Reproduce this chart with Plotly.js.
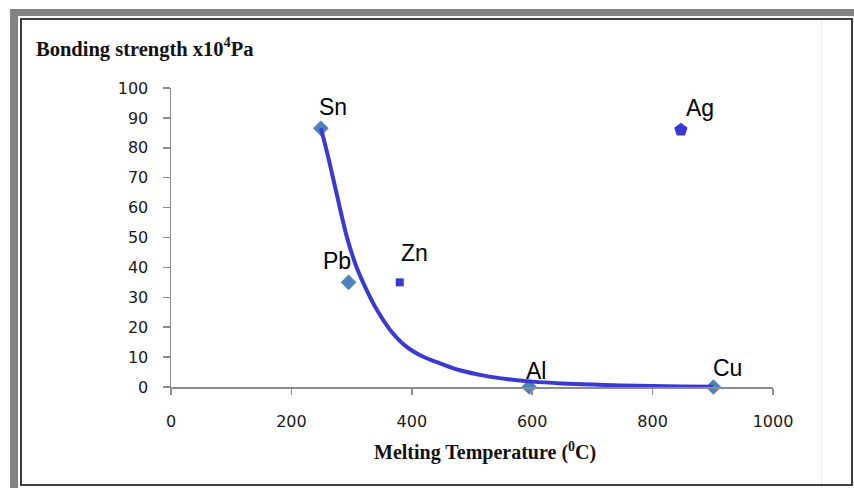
<!DOCTYPE html>
<html>
<head>
<meta charset="utf-8">
<script src="https://cdn.plot.ly/plotly-3.0.1.min.js"></script>
<style>
  html, body { margin: 0; padding: 0; background: #ffffff; }
  #wrap { position: relative; width: 854px; height: 488px; overflow: hidden; background: #ffffff; }
  #chart { position: absolute; left: 0; top: 0; width: 854px; height: 488px; }
  .fr { position: absolute; }
</style>
</head>
<body>
<div id="wrap">
  <div class="fr" style="left:10px;top:9px;width:844px;height:7px;background:#828282;"></div>
  <div class="fr" style="left:10px;top:9px;width:8px;height:479px;background:#828282;"></div>
  <div class="fr" style="left:821px;top:20px;width:1px;height:468px;background:#ededed;"></div>
  <div class="fr" style="left:20px;top:18px;width:829px;height:464px;border:2px solid #3e3e3e;"></div>
  <div id="chart"></div>
</div>
<script>
// Metals: melting temperature (°C) and bonding strength (x10^4 Pa)
const metals   = ['Sn', 'Pb', 'Al', 'Cu'];
const meltT    = [249, 295, 595, 901];
const strength = [86.5, 35, 0, 0];

const znName = ['Zn'];
const znT    = [380];
const znS    = [35];

const agName = ['Ag'];
const agT    = [847];
const agS    = [86];

// Trend line
const trendT = [249, 261, 275, 292, 308, 325, 342, 364, 391, 419, 447, 480, 520, 560, 600, 650, 700, 750, 800, 850, 900];
const trendS = [86.5, 77, 64.8, 50.3, 40.2, 32.4, 25.8, 19.1, 13.5, 10.1, 7.9, 5.6, 3.8, 2.6, 1.8, 1.2, 0.8, 0.5, 0.35, 0.2, 0.1];

const xTicks = [0, 200, 400, 600, 800, 1000];
const yTicks = [0, 10, 20, 30, 40, 50, 60, 70, 80, 90, 100];

// label offsets (px) per metal label
const labelNames = ['Sn', 'Pb', 'Zn', 'Ag', 'Al', 'Cu'];
const labelX = [meltT[0], meltT[1], znT[0], agT[0], meltT[2], meltT[3]];
const labelY = [strength[0], strength[1], znS[0], agS[0], strength[2], strength[3]];
const labelDX = [12, -12, 15, 19, 7, 14];
const labelDY = [21, 21, 29, 22, 16, 19];

const traces = [
  {
    x: meltT, y: strength, type: 'scatter', mode: 'markers', cliponaxis: false,
    marker: { symbol: 'diamond', size: 12, color: '#4f81bd' }, hoverinfo: 'skip'
  },
  {
    x: trendT, y: trendS, type: 'scatter', mode: 'lines', cliponaxis: false,
    line: { color: '#3a3ad2', width: 4, shape: 'spline' }, hoverinfo: 'skip'
  },
  {
    x: znT, y: znS, type: 'scatter', mode: 'markers', cliponaxis: false,
    marker: { symbol: 'square', size: 8, color: '#3a3ad2' }, hoverinfo: 'skip'
  },
  {
    x: agT, y: agS, type: 'scatter', mode: 'markers', cliponaxis: false,
    marker: { symbol: 'pentagon', size: 14, color: '#3a3ad2' }, hoverinfo: 'skip'
  }
];

const annotations = labelNames.map((t, i) => ({
  x: labelX[i], y: labelY[i], xref: 'x', yref: 'y', text: t, showarrow: false,
  xshift: labelDX[i], yshift: labelDY[i],
  font: { family: 'Liberation Sans, Arial, sans-serif', size: 23, color: '#000000' }
}));

annotations.push({
  xref: 'paper', yref: 'paper', x: -0.228, y: 1.134, xanchor: 'left', yanchor: 'middle',
  text: '<b>Bonding strength x10<sup>4</sup>Pa</b>', showarrow: false,
  font: { family: 'Liberation Serif, Times New Roman, serif', size: 20.5, color: '#111111' }
});
annotations.push({
  xref: 'paper', yref: 'paper', x: 0.521, y: -0.217, xanchor: 'center', yanchor: 'middle',
  text: '<b>Melting Temperature (<sup>0</sup>C)</b>', showarrow: false,
  font: { family: 'Liberation Serif, Times New Roman, serif', size: 20, color: '#111111' }
});

const layout = {
  width: 854, height: 488,
  margin: { l: 171, r: 81, t: 88, b: 101, pad: 0 },
  paper_bgcolor: 'rgba(0,0,0,0)', plot_bgcolor: 'rgba(0,0,0,0)',
  showlegend: false,
  xaxis: {
    range: [0, 1000], tickvals: xTicks, ticktext: xTicks.map(String),
    showgrid: false, zeroline: false, showline: true, linecolor: '#8c8c8c', linewidth: 1.5,
    ticks: 'outside', ticklen: 6, tickcolor: '#8c8c8c', tickwidth: 1.5,
    ticklabelstandoff: 13,
    tickfont: { family: 'DejaVu Sans, sans-serif', size: 16, color: '#1a1a1a' },
    fixedrange: true
  },
  yaxis: {
    range: [0, 100], tickvals: yTicks, ticktext: yTicks.map(String),
    showgrid: false, zeroline: false, showline: true, linecolor: '#8c8c8c', linewidth: 1.5,
    ticks: 'outside', ticklen: 7, tickcolor: '#8c8c8c', tickwidth: 1.5,
    ticklabelstandoff: 11,
    tickfont: { family: 'DejaVu Sans, sans-serif', size: 16, color: '#1a1a1a' },
    fixedrange: true
  },
  annotations: annotations
};

Plotly.newPlot('chart', traces, layout, { staticPlot: true, displayModeBar: false });
</script>
</body>
</html>
